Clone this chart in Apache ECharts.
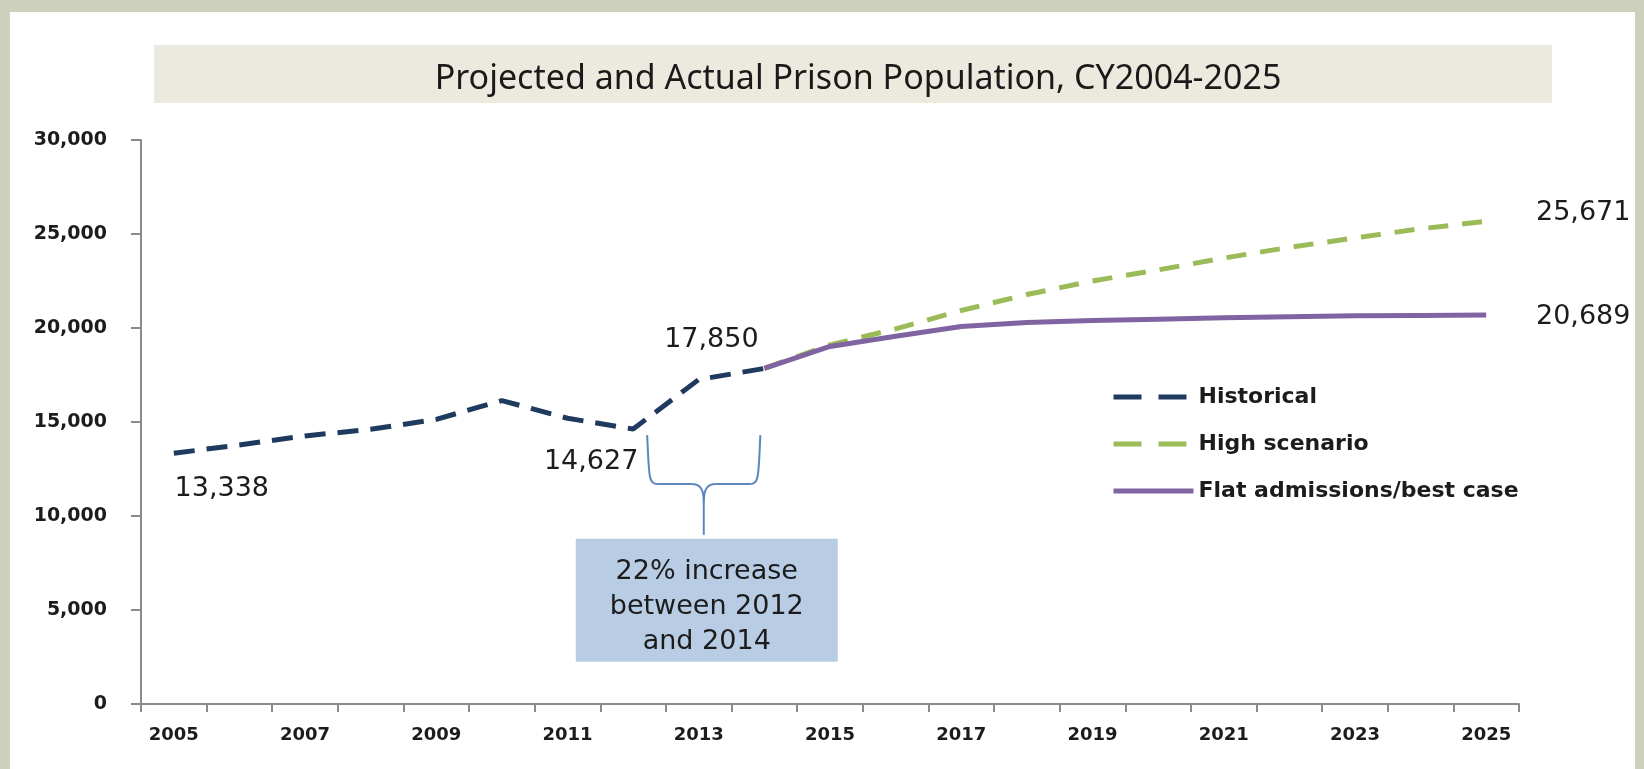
<!DOCTYPE html>
<html>
<head>
<meta charset="utf-8">
<title>Projected and Actual Prison Population, CY2004-2025</title>
<script src="https://cdn.jsdelivr.net/npm/echarts@6/dist/echarts.min.js"></script>
<style>
  html, body { margin: 0; padding: 0; width: 1644px; height: 769px; background: #cdd1bb; overflow: hidden; }
  #panel { position: absolute; left: 10px; top: 12px; width: 1625px; height: 757px; background: #ffffff; }
  #chart { position: absolute; left: 0; top: 0; width: 1644px; height: 769px; }
</style>
</head>
<body>
<div id="panel"></div>
<div id="chart"></div>
<script>
const years = ['2005', '2006', '2007', '2008', '2009', '2010', '2011', '2012', '2013', '2014', '2015',
  '2016', '2017', '2018', '2019', '2020', '2021', '2022', '2023', '2024', '2025']
const historical = [13338, 13780, 14260, 14610, 15140, 16140, 15200, 14627, 17260, 17850,
  null, null, null, null, null, null, null, null, null, null, null]
const highScenario = [null, null, null, null, null, null, null, null, null, 17850, 19100,
  19950, 20930, 21780, 22500, 23090, 23720, 24290, 24790, 25280, 25671]
const flatAdmissions = [null, null, null, null, null, null, null, null, null, 17850, 19020,
  19560, 20080, 20290, 20400, 20470, 20540, 20600, 20650, 20670, 20689]
const yTicks = [0, 5000, 10000, 15000, 20000, 25000, 30000]

// which points get a value label, and where the label sits relative to the point
const historicalLabels = { 0: [48, 36], 7: [-42, 33], 9: [-53, -28] }
const highLabels = { 20: [97, -8] }
const flatLabels = { 20: [97, 2] }

const fmt = (v) => Number(v).toLocaleString('en-US')

function withLabels(values, labels) {
  return values.map((v, i) => {
    if (!labels[i]) return v
    return {
      value: v,
      symbol: 'circle',
      symbolSize: 1,
      itemStyle: { color: 'rgba(0,0,0,0)' },
      label: {
        show: true,
        position: 'inside',
        offset: labels[i],
        formatter: (p) => fmt(p.value),
        fontFamily: 'DejaVu Sans',
        fontSize: 27,
        color: '#1c1c1c',
      },
    }
  })
}

const chart = echarts.init(document.getElementById('chart'), null, { renderer: 'canvas' })

const option = {
  animation: false,
  backgroundColor: 'transparent',
  title: {
    text: 'Projected and Actual Prison Population, CY2004-2025',
    left: 853,
    top: 74,
    textAlign: 'center',
    textVerticalAlign: 'middle',
    textStyle: {
      fontFamily: 'Noto Sans',
      fontWeight: 'normal',
      fontSize: 34,
      color: '#1a1a1a',
    },
    z: 5,
  },
  grid: {
    left: 141,
    right: 125,
    top: 140,
    bottom: 65,
    outerBoundsMode: 'none',
  },
  legend: {
    orient: 'vertical',
    left: 1111,
    top: 386,
    padding: 0,
    itemWidth: 80,
    itemHeight: 20,
    itemGap: 25,
    selectedMode: false,
    itemStyle: { opacity: 0 },
    textStyle: {
      fontFamily: 'DejaVu Sans',
      fontWeight: 'bold',
      fontSize: 22,
      color: '#1c1c1c',
    },
    data: [
      { name: 'Historical', lineStyle: { type: [28, 17], width: 5 } },
      { name: 'High scenario', lineStyle: { type: [28, 17], width: 5 } },
      { name: 'Flat admissions/best case', lineStyle: { width: 5 } },
    ],
  },
  xAxis: {
    type: 'category',
    data: years,
    boundaryGap: true,
    axisLine: { lineStyle: { color: '#8a8a8a', width: 2 } },
    axisTick: { show: true, interval: 0, length: 8, lineStyle: { color: '#8a8a8a', width: 2 } },
    axisLabel: {
      interval: 1,
      margin: 22,
      fontFamily: 'DejaVu Sans',
      fontWeight: 'bold',
      fontSize: 18,
      color: '#1c1c1c',
    },
    splitLine: { show: false },
  },
  yAxis: {
    type: 'value',
    min: yTicks[0],
    max: yTicks[yTicks.length - 1],
    interval: yTicks[1] - yTicks[0],
    axisLine: { show: true, lineStyle: { color: '#8a8a8a', width: 2 } },
    axisTick: { show: true, length: 10, lineStyle: { color: '#8a8a8a', width: 2 } },
    axisLabel: {
      margin: 34,
      formatter: fmt,
      fontFamily: 'DejaVu Sans',
      fontWeight: 'bold',
      fontSize: 19,
      color: '#1c1c1c',
    },
    splitLine: { show: false },
  },
  series: [
    {
      name: 'High scenario',
      type: 'line',
      symbol: 'none',
      z: 2,
      lineStyle: { color: '#9bbb59', width: 5, type: [20, 14] },
      itemStyle: { color: '#9bbb59' },
      data: withLabels(highScenario, highLabels),
    },
    {
      name: 'Flat admissions/best case',
      type: 'line',
      symbol: 'none',
      z: 3,
      lineStyle: { color: '#8064a2', width: 5 },
      itemStyle: { color: '#8064a2' },
      data: withLabels(flatAdmissions, flatLabels),
    },
    {
      name: 'Historical',
      type: 'line',
      symbol: 'none',
      z: 4,
      lineStyle: { color: '#1f3a5f', width: 5, type: [21, 12] },
      itemStyle: { color: '#1f3a5f' },
      data: withLabels(historical, historicalLabels),
    },
  ],
}

chart.setOption(option)

// title band, brace and note box, placed from the axes
const toPx = (cat, v) => chart.convertToPixel({ xAxisIndex: 0, yAxisIndex: 0 }, [cat, v])
const a = toPx('2012', 14300)
const b = toPx('2014', 14300)
const x1 = a[0] + 14
const x2 = b[0] - 4
const yT = a[1]
const yM = toPx('2012', 11700)[1]
const yB = toPx('2012', 9000)[1]
const xm = (x1 + x2) / 2
const braceStyle = { stroke: '#5b86c0', lineWidth: 2, fill: null }
const curve = (p1, c1, c2, p2) => ({
  type: 'bezierCurve',
  shape: { x1: p1[0], y1: p1[1], cpx1: c1[0], cpy1: c1[1], cpx2: c2[0], cpy2: c2[1], x2: p2[0], y2: p2[1] },
  style: braceStyle,
})
const seg = (p1, p2) => ({
  type: 'line',
  shape: { x1: p1[0], y1: p1[1], x2: p2[0], y2: p2[1] },
  style: braceStyle,
})

chart.setOption({
  graphic: [
    {
      type: 'rect',
      z: 1,
      shape: { x: 154, y: 45, width: 1398, height: 58 },
      style: { fill: '#ece9df' },
    },
    {
      type: 'group',
      z: 10,
      children: [
        curve([x1, yT], [x1 + 2, yM - 10], [x1 + 1, yM], [x1 + 10, yM]),
        seg([x1 + 10, yM], [xm - 12, yM]),
        curve([xm - 12, yM], [xm - 3, yM], [xm, yM + 6], [xm, yM + 18]),
        seg([xm, yM + 18], [xm, yB]),
        curve([xm + 12, yM], [xm + 3, yM], [xm, yM + 6], [xm, yM + 18]),
        seg([xm + 12, yM], [x2 - 10, yM]),
        curve([x2 - 10, yM], [x2 - 1, yM], [x2 - 2, yM - 10], [x2, yT]),
      ],
    },
    {
      type: 'rect',
      z: 10,
      shape: { x: xm - 128, y: yB + 4, width: 262, height: 123 },
      style: { fill: '#b8cce4' },
    },
    {
      type: 'text',
      z: 11,
      x: xm + 3,
      y: yB + 4 + 68,
      style: {
        text: '22% increase\nbetween 2012\nand 2014',
        align: 'center',
        verticalAlign: 'middle',
        lineHeight: 35,
        fontFamily: 'DejaVu Sans',
        fontSize: 27,
        fill: '#1c1c1c',
      },
    },
  ],
})
</script>
</body>
</html>
